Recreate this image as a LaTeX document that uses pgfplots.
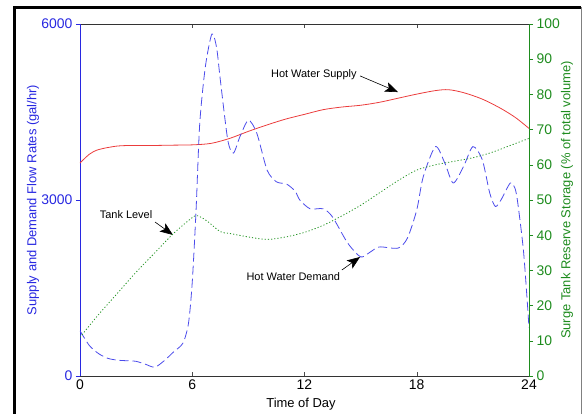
\documentclass[border=0pt]{standalone}
\usepackage{fontspec}
\setmainfont{Liberation Sans}
\usepackage{pgfplots}
\pgfplotsset{compat=1.18}
\usetikzlibrary{arrows.meta}

\definecolor{supplyred}{RGB}{235,60,60}
\definecolor{demandblue}{RGB}{75,75,235}
\definecolor{axblue}{RGB}{40,40,225}
\definecolor{tankgreen}{RGB}{40,150,40}
\definecolor{axgreen}{RGB}{30,140,30}

\pgfplotsset{
  base/.style={
    scale only axis, width=449bp, height=352bp,
    xmin=0, xmax=24,
    /pgf/number format/assume math mode=true,
    /pgf/number format/1000 sep={},
    tick label style={font=\fontsize{14}{16}\selectfont},
    major tick length=4bp,
  }
}

\begin{document}
\begin{tikzpicture}
\path[use as bounding box] (-80bp,-38bp) rectangle (506bp,376bp);

% x axis (box, ticks inside)
\begin{axis}[base,
  ymin=0, ymax=6000,
  axis x line*=box, axis y line=none,
  xtick={0,6,12,18,24},
  tick align=inside,
  x axis line style={black!80},
  xtick style={black!70},
]
\end{axis}

% left axis: flow rates
\begin{axis}[base,
  ymin=0, ymax=6000,
  axis x line=none, axis y line*=left,
  ytick={0,3000,6000},
  tick align=outside,
  y axis line style={axblue},
  ytick style={axblue},
  yticklabel style={axblue},
]
% hot water supply
\addplot[supplyred, line width=0.8pt, smooth] coordinates {
  (0,3630) (0.5,3780) (1,3860) (2,3920) (3,3930) (4,3930) (5,3935)
  (6,3940) (7,3965) (8,4050) (9,4170) (10,4280) (11,4380) (12,4460)
  (13,4540) (14,4585) (15,4615) (16,4665) (17,4735) (18,4805)
  (19,4865) (19.7,4880) (20.5,4830) (21.5,4720) (22.5,4560)
  (23.3,4400) (24,4220)
};
% hot water demand
\addplot[demandblue, line width=0.8pt, dash pattern=on 9bp off 4bp, smooth, tension=0.45] coordinates {
  (0,770) (0.5,520) (1,380) (1.5,300) (2,270) (2.5,260) (3,250)
  (3.5,200) (4,150) (4.5,260) (5,410) (5.5,560) (5.8,900) (6.0,1600)
  (6.2,2800) (6.4,4300) (6.7,5270) (7.05,5830) (7.3,5600) (7.5,5050)
  (7.9,4020) (8.2,3800) (8.55,4080) (9.0,4360) (9.45,4140) (10,3510)
  (10.5,3310) (11.05,3270) (11.5,3150) (11.75,3000) (12.3,2850)
  (13,2850) (13.5,2710) (14.3,2270) (15,2030) (15.5,2110) (16,2200)
  (17,2180) (17.5,2350) (18,2830) (18.35,3400) (19,3910) (19.5,3630)
  (19.95,3290) (20.5,3570) (21,3910) (21.5,3690) (21.9,3120)
  (22.2,2890) (22.5,3000) (23,3290) (23.25,3200) (23.4,2950)
  (23.7,2150) (23.9,1300) (24,820)
};
\begin{scope}[font=\fontsize{11}{13}\selectfont]
\node at (axis cs:12.5,5130) {Hot Water Supply};
\draw[-{Stealth[length=13bp,width=10bp,inset=3bp]}, line width=0.6pt] (axis cs:14.97,5115) -- (axis cs:17.0,4840);
\node at (axis cs:2.46,2745) {Tank Level};
\draw[-{Stealth[length=13bp,width=10bp,inset=3bp]}, line width=0.6pt] (axis cs:4.01,2625) -- (axis cs:4.97,2404);
\node at (axis cs:11.4,1690) {Hot Water Demand};
\draw[-{Stealth[length=13bp,width=10bp,inset=3bp]}, line width=0.6pt] (axis cs:14.0,1807) -- (axis cs:14.97,2029);
\end{scope}
\end{axis}

% right axis: tank storage
\begin{axis}[base,
  ymin=0, ymax=100,
  axis x line=none, axis y line*=right,
  ytick={0,10,...,100},
  tick align=outside,
  y axis line style={axgreen},
  ytick style={axgreen},
  yticklabel style={axgreen},
]
\addplot[tankgreen, line width=0.8pt, dash pattern=on 1.2bp off 2bp, smooth] coordinates {
  (0,11) (1,17.5) (2,23.5) (3,29.5) (4,35) (5,40.5) (6,45) (6.3,45.5)
  (6.8,44) (7.5,41) (8,40.5) (9,39.5) (10,38.8) (11,39.5) (12,40.8)
  (13,42.8) (14,45.5) (15,48.5) (16,52) (17,55.5) (18,58.5) (19,60)
  (20,61) (21,62) (22,63.5) (23,65.5) (24,67.5)
};
\end{axis}

\node[rotate=90, axblue, font=\fontsize{13}{15}\selectfont] at (-47bp,176bp) {Supply and Demand Flow Rates (gal/hr)};
\node[rotate=90, axgreen, font=\fontsize{13}{15}\selectfont] at (487bp,176bp) {Surge Tank Reserve Storage (\% of total volume)};
\node[font=\fontsize{13}{15}\selectfont] at (221bp,-28bp) {Time of Day};

% figure frame
\draw[line width=3bp] (-65.5bp,-38bp) -- (-65.5bp,368.5bp) -- (501bp,368.5bp);
\draw[gray, line width=0.6bp] (501bp,368.5bp) -- (501bp,-38bp);
\end{tikzpicture}
\end{document}
